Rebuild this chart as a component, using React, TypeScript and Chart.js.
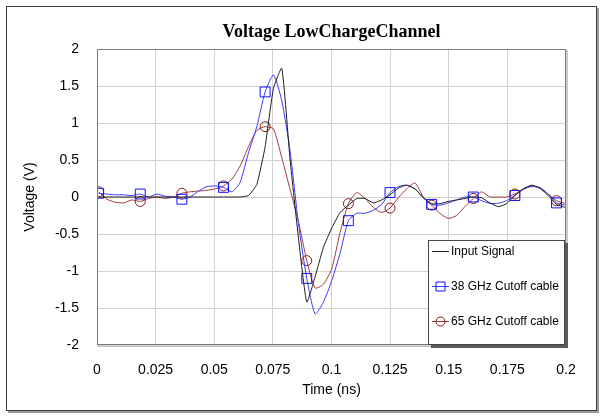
import React, { useEffect, useRef } from 'react';
import { Chart, registerables } from 'chart.js';

Chart.register(...registerables);

const timeNs = [
  0.0007, 0.00425, 0.0078, 0.01135, 0.0149, 0.01845, 0.022, 0.02555, 0.0291, 0.03265,
  0.0362, 0.03975, 0.0433, 0.04685, 0.0504, 0.05395, 0.0575, 0.06105, 0.0646, 0.06815,
  0.0717, 0.07525, 0.0788, 0.08235, 0.0859, 0.08945, 0.093, 0.09655, 0.1001, 0.10365,
  0.1072, 0.11075, 0.1143, 0.11785, 0.1214, 0.12495, 0.1285, 0.13205, 0.1356, 0.13915,
  0.1427, 0.14625, 0.1498, 0.15335, 0.1569, 0.16045, 0.164, 0.16755, 0.1711, 0.17465,
  0.1782, 0.18175, 0.1853, 0.18885, 0.1924, 0.19595, 0.1995,
];

const inputSignal = [
  0, 0, 0, 0, 0, 0, 0, 0, 0, 0,
  0, 0, 0, 0, 0, 0, 0, 0, 0.02, 0.17,
  0.68, 1.47, 1.74, 0.5, -0.55, -1.42, -1.08, -0.68, -0.42, -0.21,
  -0.11, -0.02, -0.02, -0.08, -0.04, 0.03, 0.12, 0.16, 0.11, -0.01,
  -0.09, -0.09, -0.06, -0.04, -0.02, 0.0, -0.01, -0.08, -0.13, -0.09,
  0.02, 0.11, 0.16, 0.12, 0.02, -0.1, -0.14,
];

const cable38GHz = [
  0.05, 0.04, 0.03, 0.03, 0.02, 0.04, 0.0, 0.04, 0.01, 0.0,
  -0.03, 0.0, 0.08, 0.14, 0.15, 0.13, 0.07, 0.2, 0.6, 0.95,
  1.42, 1.65, 1.3, 0.62, -0.36, -1.1, -1.58, -1.42, -1.13, -0.76,
  -0.32, -0.22, -0.22, -0.18, -0.1, 0.06, 0.14, 0.16, 0.11, -0.01,
  -0.1, -0.11, -0.08, -0.04, 0.0, 0.0, -0.05, -0.085, -0.085, -0.05,
  0.02, 0.11, 0.14, 0.13, 0.04, -0.08, -0.11,
];

const cable65GHz = [
  0.07, -0.03, -0.07, -0.08, -0.04, -0.06, -0.02, 0.0, -0.02, 0.0,
  0.05, 0.07, 0.08, 0.09, 0.11, 0.15, 0.24, 0.42, 0.68, 0.9,
  0.95, 0.92, 0.53, 0.1, -0.33, -0.86, -1.23, -1.18, -0.97, -0.48,
  -0.09, 0.06, -0.02, -0.14, -0.21, -0.15, -0.01, 0.11, 0.19, 0.0,
  -0.11, -0.22, -0.29, -0.25, -0.13, -0.02, 0.07, 0.0, 0.0, 0.0,
  0.04, 0.1, 0.15, 0.12, 0.04, -0.05, -0.085,
];

const seriesNames = ['Input Signal', '38 GHz Cutoff cable', '65 GHz Cutoff cable'];
const xTickLabels = ['0', '0.025', '0.05', '0.075', '0.1', '0.125', '0.15', '0.175', '0.2'];
const yTickLabels = ['-2', '-1.5', '-1', '-0.5', '0', '0.5', '1', '1.5', '2'];
const chartTitle = 'Voltage LowChargeChannel';
const xAxisTitle = 'Time (ns)';
const yAxisTitle = 'Voltage (V)';
const markerEvery = 5;

const SANS = '"Liberation Sans", Arial, sans-serif';
const SERIF = '"Liberation Serif", "Times New Roman", serif';

const COLORS = {
  input: '#1c1c1c',
  blueLine: '#3a3aff',
  blueMark: '#1010ff',
  redLine: '#a03a3a',
  redMark: '#8a1616',
};

const toPoints = (ys: number[]) => ys.map((y, i) => ({ x: timeNs[i], y }));
const markerRadius = (r: number) => timeNs.map((_, i) => (i % markerEvery === 0 ? r : 0));

const decorPlugin = {
  id: 'decor',
  afterDraw(chart: any) {
    const ctx = chart.ctx as CanvasRenderingContext2D;
    const { left, right, top, bottom } = chart.chartArea;
    ctx.save();
    // plot border with slight shadow
    ctx.strokeStyle = '#c4c4c4';
    ctx.lineWidth = 1;
    ctx.beginPath();
    ctx.moveTo(left + 1, bottom + 1.5);
    ctx.lineTo(right + 1.5, bottom + 1.5);
    ctx.lineTo(right + 1.5, top + 1);
    ctx.stroke();
    ctx.strokeStyle = '#7a7a7a';
    ctx.strokeRect(left + 0.5, top + 0.5, right - left - 1, bottom - top - 1);

    // title
    ctx.fillStyle = '#000';
    ctx.font = `bold 18px ${SERIF}`;
    ctx.textAlign = 'center';
    ctx.textBaseline = 'middle';
    ctx.fillText(chartTitle, (left + right) / 2, 32);

    // legend box
    const bx = right - 138;
    const by = bottom - 105;
    const bw = 137;
    const bh = 105;
    ctx.fillStyle = '#5a5a5a';
    ctx.fillRect(bx + 3, by + 3, bw, bh);
    ctx.fillStyle = '#fff';
    ctx.fillRect(bx, by, bw, bh);
    ctx.strokeStyle = '#444';
    ctx.strokeRect(bx + 0.5, by + 0.5, bw - 1, bh - 1);

    const items = [
      { name: seriesNames[0], line: COLORS.input, mark: null as null | string, style: '' },
      { name: seriesNames[1], line: COLORS.blueLine, mark: COLORS.blueMark, style: 'rect' },
      { name: seriesNames[2], line: COLORS.redLine, mark: COLORS.redMark, style: 'circle' },
    ];
    ctx.font = `12px ${SANS}`;
    ctx.textAlign = 'left';
    ctx.textBaseline = 'middle';
    items.forEach((it, k) => {
      const y = by + 11 + k * 35;
      const x1 = bx + 4;
      const x2 = bx + 21;
      ctx.strokeStyle = it.line;
      ctx.lineWidth = 1;
      ctx.beginPath();
      ctx.moveTo(x1, y + 0.5);
      ctx.lineTo(x2, y + 0.5);
      ctx.stroke();
      if (it.mark) {
        ctx.strokeStyle = it.mark;
        const cx = (x1 + x2) / 2;
        ctx.beginPath();
        if (it.style === 'rect') {
          ctx.rect(cx - 4.5, y - 4, 9, 9);
        } else {
          ctx.arc(cx, y + 0.5, 4.5, 0, Math.PI * 2);
        }
        ctx.stroke();
      }
      ctx.fillStyle = '#000';
      ctx.fillText(it.name, bx + 23, y + 1);
    });
    ctx.restore();
  },
};

export default function App() {
  const canvasRef = useRef<HTMLCanvasElement | null>(null);

  useEffect(() => {
    if (!canvasRef.current) return;
    const chart = new Chart(canvasRef.current, {
      type: 'line',
      data: {
        datasets: [
          {
            label: seriesNames[0],
            data: toPoints(inputSignal),
            borderColor: COLORS.input,
            borderWidth: 1,
            pointRadius: 0,
            tension: 0.15,
          },
          {
            label: seriesNames[1],
            data: toPoints(cable38GHz),
            borderColor: COLORS.blueLine,
            borderWidth: 1,
            pointStyle: 'rect',
            pointRadius: markerRadius(7),
            pointBorderColor: COLORS.blueMark,
            pointBackgroundColor: 'rgba(0,0,0,0)',
            pointBorderWidth: 1,
            tension: 0.2,
          },
          {
            label: seriesNames[2],
            data: toPoints(cable65GHz),
            borderColor: COLORS.redLine,
            borderWidth: 1,
            pointStyle: 'circle',
            pointRadius: markerRadius(5),
            pointBorderColor: COLORS.redMark,
            pointBackgroundColor: 'rgba(0,0,0,0)',
            pointBorderWidth: 1,
            tension: 0.2,
          },
        ],
      },
      options: {
        responsive: false,
        animation: false,
        events: [],
        layout: { padding: { left: 0, right: 37, top: 49, bottom: 0 } },
        plugins: {
          legend: { display: false },
          title: { display: false },
          tooltip: { enabled: false },
        },
        scales: {
          x: {
            type: 'linear',
            min: 0,
            max: 0.2,
            afterFit: (s: any) => {
              s.height = 71;
            },
            afterBuildTicks: (s: any) => {
              s.ticks = xTickLabels.map((t) => ({ value: parseFloat(t) }));
            },
            ticks: {
              padding: 17,
              color: '#000',
              font: { family: SANS, size: 14 },
              maxRotation: 0,
              autoSkip: false,
              callback: (_v: any, i: number) => xTickLabels[i],
            },
            grid: { color: '#d2d2d2', drawTicks: false, lineWidth: 1 },
            border: { display: false },
            title: {
              display: true,
              text: xAxisTitle,
              color: '#000',
              font: { family: SANS, size: 14 },
              padding: { top: 0, bottom: 17 },
            },
          },
          y: {
            type: 'linear',
            min: -2,
            max: 2,
            afterFit: (s: any) => {
              s.width = 97;
            },
            afterBuildTicks: (s: any) => {
              s.ticks = yTickLabels.map((t) => ({ value: parseFloat(t) }));
            },
            ticks: {
              padding: 18,
              color: '#000',
              font: { family: SANS, size: 14 },
              autoSkip: false,
              callback: (_v: any, i: number) => yTickLabels[i],
            },
            grid: { color: '#d2d2d2', drawTicks: false, lineWidth: 1 },
            border: { display: false },
            title: {
              display: true,
              text: yAxisTitle,
              color: '#000',
              font: { family: SANS, size: 14 },
              padding: { top: 22, bottom: 0 },
            },
          },
        },
      },
      plugins: [decorPlugin],
    } as any);
    return () => chart.destroy();
  }, []);

  return (
    <div style={{ position: 'absolute', left: 0, top: 0, width: 603, height: 416, background: '#fff' }}>
      <canvas ref={canvasRef} width={603} height={416} style={{ display: 'block' }} />
      <div
        style={{
          position: 'absolute',
          left: 6,
          top: 6,
          width: 589,
          height: 403,
          border: '1px solid #3a3a3a',
          boxShadow: '2px 2px 0 #9a9a9a',
          pointerEvents: 'none',
        }}
      />
    </div>
  );
}
